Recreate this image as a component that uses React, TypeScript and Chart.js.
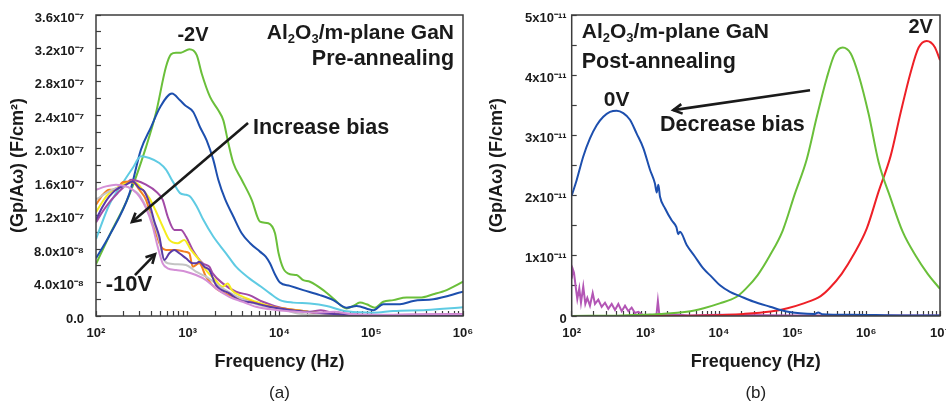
import React, { useEffect, useRef } from 'react';
import { Chart, registerables } from 'chart.js';

Chart.register(...registerables);

const FONT = "'Liberation Sans', Arial, Helvetica, sans-serif";
const INK = '#1a1a1a';
const FRAME = '#3c3c3c';

// ---------- tick labels ----------
const aXTickLabels = ['10²', '10³', '10⁴', '10⁵', '10⁶'];
const aYTickLabels = ['0.0', '4.0x10⁻⁸', '8.0x10⁻⁸', '1.2x10⁻⁷', '1.6x10⁻⁷', '2.0x10⁻⁷', '2.4x10⁻⁷', '2.8x10⁻⁷', '3.2x10⁻⁷', '3.6x10⁻⁷'];
const bXTickLabels = ['10²', '10³', '10⁴', '10⁵', '10⁶', '10⁷'];
const bYTickLabels = ['0', '1x10⁻¹¹', '2x10⁻¹¹', '3x10⁻¹¹', '4x10⁻¹¹', '5x10⁻¹¹'];

// ---------- panel (a): Pre-annealing, values in units of 1e-8 F/cm², x as log10(Hz) ----------
const a_m2V_logHz = [2.0, 2.145, 2.363, 2.545, 2.654, 2.763, 2.818, 2.872, 2.926, 3.017, 3.098, 3.152, 3.243, 3.333, 3.388, 3.442, 3.497, 3.588, 3.697, 3.787, 3.878, 3.951, 3.99, 4.041, 4.114, 4.187, 4.259, 4.332, 4.477, 4.586, 4.732, 4.804, 4.877, 4.95, 5.041, 5.131, 5.24, 5.386, 5.531, 5.676, 5.822, 6.0];
const a_m2V_val = [6.2, 9.6, 14.5, 20.2, 24.3, 29.8, 31.3, 31.5, 31.5, 31.9, 31.2, 29.0, 26.2, 24.6, 23.4, 20.7, 18.3, 16.3, 13.9, 11.3, 11.1, 9.9, 7.5, 5.7, 5.0, 4.9, 4.3, 4.1, 3.1, 2.1, 0.9, 1.2, 1.6, 1.4, 1.0, 1.7, 1.9, 2.2, 2.2, 2.6, 3.1, 4.1];

const a_m3V_logHz = [2.0, 2.145, 2.363, 2.49, 2.6, 2.7, 2.828, 2.916, 2.97, 3.06, 3.133, 3.206, 3.278, 3.333, 3.406, 3.497, 3.588, 3.68, 3.787, 3.85, 3.896, 3.95, 4.005, 4.114, 4.259, 4.441, 4.586, 4.732, 4.841, 5.022, 5.131, 5.313, 5.458, 5.676, 6.0];
const a_m3V_val = [6.9, 9.6, 14.6, 19.9, 22.6, 25.0, 26.6, 25.8, 25.2, 24.4, 22.6, 21.0, 18.7, 16.3, 14.0, 11.9, 9.9, 8.7, 7.7, 7.1, 6.3, 5.0, 4.0, 3.6, 3.1, 2.5, 1.9, 1.0, 1.2, 0.7, 1.4, 1.4, 1.8, 2.0, 2.9];

const a_m4V_logHz = [2.0, 2.145, 2.291, 2.4, 2.49, 2.581, 2.69, 2.763, 2.836, 2.916, 2.981, 3.025, 3.098, 3.17, 3.278, 3.417, 3.526, 3.671, 3.8, 3.896, 4.005, 4.15, 4.332, 4.514, 4.695, 4.877, 5.02, 5.24, 5.6, 6.0];
const a_m4V_val = [9.2, 13.3, 15.9, 17.7, 19.1, 18.9, 18.3, 17.5, 16.1, 14.7, 14.5, 14.3, 13.1, 11.5, 9.5, 7.5, 5.9, 4.5, 3.5, 2.7, 1.9, 1.6, 1.5, 1.2, 0.63, 0.44, 0.4, 0.6, 0.72, 1.04];

const a_m5V_logHz = [2.0, 2.073, 2.145, 2.254, 2.327, 2.381, 2.436, 2.545, 2.654, 2.727, 2.781, 2.854, 2.926, 2.981, 3.054, 3.163, 3.235, 3.272, 3.381, 3.526, 3.671, 3.817, 4.035, 4.2, 4.332, 4.45, 4.6, 4.7, 5.0, 5.5, 6.0];
const a_m5V_val = [11.2, 12.5, 13.6, 14.9, 15.7, 16.3, 16.2, 15.7, 14.9, 13.9, 11.9, 10.3, 10.3, 9.5, 7.9, 6.3, 5.9, 5.1, 3.9, 2.9, 2.5, 1.7, 0.92, 0.7, 0.52, 0.7, 0.3, 0.2, 0.1, 0.15, 0.24];

const a_m6V_logHz = [2.0, 2.073, 2.145, 2.254, 2.363, 2.436, 2.509, 2.581, 2.654, 2.727, 2.799, 2.89, 2.962, 3.035, 3.126, 3.199, 3.3, 3.381, 3.435, 3.48, 3.526, 3.744, 3.962, 4.18, 4.4, 4.6, 5.0, 6.0];
const a_m6V_val = [12.4, 13.7, 14.7, 15.5, 16.0, 15.9, 15.1, 14.1, 12.5, 10.7, 9.1, 8.7, 9.1, 7.9, 6.7, 5.5, 4.3, 3.5, 3.9, 3.1, 2.7, 1.7, 1.0, 0.72, 0.4, 0.2, 0.1, 0.05];

const a_m7V_logHz = [2.0, 2.073, 2.145, 2.218, 2.291, 2.363, 2.418, 2.472, 2.545, 2.6, 2.654, 2.708, 2.763, 2.872, 2.962, 3.017, 3.054, 3.126, 3.199, 3.308, 3.453, 3.6, 3.817, 4.035, 4.3, 4.55, 4.7, 5.0, 6.0];
const a_m7V_val = [13.3, 14.5, 15.1, 15.1, 16.0, 16.1, 15.9, 15.1, 13.9, 11.9, 9.9, 8.3, 7.9, 7.9, 7.7, 7.5, 5.9, 6.3, 4.7, 3.3, 2.5, 2.0, 1.3, 0.92, 0.5, 0.05, 0.0, 0.0, 0.0];

const a_m8V_logHz = [2.0, 2.109, 2.218, 2.327, 2.4, 2.472, 2.545, 2.618, 2.69, 2.727, 2.781, 2.872, 2.981, 3.09, 3.199, 3.381, 3.599, 3.817, 4.035, 4.2, 4.5, 5.0, 6.0];
const a_m8V_val = [13.9, 14.7, 15.3, 15.5, 15.1, 14.5, 13.1, 11.5, 9.1, 7.1, 6.3, 6.2, 6.1, 5.3, 4.7, 3.3, 2.0, 1.2, 0.8, 0.3, 0.1, 0.05, 0.05];

const a_m9V_logHz = [2.0, 2.073, 2.145, 2.218, 2.327, 2.4, 2.472, 2.527, 2.581, 2.636, 2.69, 2.745, 2.799, 2.854, 2.908, 2.981, 3.054, 3.09, 3.126, 3.181, 3.235, 3.308, 3.453, 3.562, 3.708, 3.889, 4.107, 4.3, 4.5, 5.0, 6.0];
const a_m9V_val = [11.5, 13.1, 14.3, 15.1, 15.7, 16.1, 15.3, 14.9, 13.5, 11.3, 9.5, 6.7, 7.5, 7.9, 7.5, 6.9, 6.3, 6.3, 6.5, 5.9, 5.5, 3.7, 2.7, 1.9, 1.6, 1.1, 0.72, 0.5, 0.3, 0.1, 0.1];

const a_m10V_logHz = [2.0, 2.109, 2.218, 2.327, 2.4, 2.472, 2.545, 2.618, 2.672, 2.727, 2.781, 2.872, 2.981, 3.09, 3.199, 3.308, 3.453, 3.599, 3.744, 3.962, 4.18, 4.4, 4.6, 4.8, 5.2, 5.6, 6.0];
const a_m10V_val = [15.1, 15.5, 15.7, 15.5, 15.1, 14.3, 12.9, 10.7, 8.3, 6.3, 5.7, 5.5, 5.3, 4.9, 4.3, 3.3, 2.3, 1.7, 1.1, 0.72, 0.52, 0.4, 0.5, 0.2, 0.15, 0.2, 0.2];

// ---------- panel (b): Post-annealing, values in units of 1e-11 F/cm² ----------
const b_0V_logHz = [2.0, 2.068, 2.157, 2.248, 2.339, 2.429, 2.52, 2.611, 2.7, 2.791, 2.882, 2.972, 3.063, 3.13, 3.154, 3.176, 3.199, 3.266, 3.357, 3.42, 3.447, 3.47, 3.561, 3.674, 3.786, 3.9, 4.013, 4.149, 4.285, 4.465, 4.692, 4.918, 5.1, 5.3, 5.347, 5.4, 5.8, 6.5, 7.0];
const b_0V_val = [2.0, 2.26, 2.65, 2.95, 3.17, 3.31, 3.39, 3.41, 3.37, 3.26, 3.03, 2.79, 2.43, 2.2, 2.05, 2.18, 1.98, 1.79, 1.59, 1.48, 1.36, 1.4, 1.18, 0.985, 0.79, 0.65, 0.51, 0.4, 0.33, 0.24, 0.155, 0.075, 0.045, 0.035, 0.06, 0.03, 0.02, 0.01, 0.01];

const b_1V_logHz = [2.0, 2.69, 3.195, 3.561, 3.792, 4.009, 4.24, 4.362, 4.525, 4.688, 4.865, 5.027, 5.19, 5.326, 5.462, 5.57, 5.679, 5.788, 5.896, 6.032, 6.168, 6.331, 6.493, 6.67, 6.833, 7.0];
const b_1V_val = [0.0, 0.01, 0.033, 0.07, 0.13, 0.21, 0.32, 0.45, 0.68, 1.0, 1.42, 2.02, 2.6, 3.3, 3.95, 4.35, 4.46, 4.36, 4.0, 3.35, 2.55, 1.95, 1.4, 1.0, 0.7, 0.45];

const b_2V_logHz = [2.0, 3.0, 3.83, 4.335, 4.7, 4.93, 5.15, 5.38, 5.5, 5.665, 5.828, 6.005, 6.167, 6.33, 6.466, 6.602, 6.71, 6.819, 6.928, 7.0];
const b_2V_val = [0.0, 0.0, 0.01, 0.035, 0.075, 0.13, 0.21, 0.33, 0.46, 0.7, 1.02, 1.45, 2.07, 2.66, 3.38, 4.05, 4.46, 4.57, 4.47, 4.25];

const b_neg_logHz = [2.0, 2.015, 2.031, 2.058, 2.076, 2.103, 2.126, 2.157, 2.185, 2.212, 2.248, 2.285, 2.316, 2.361, 2.407, 2.452, 2.497, 2.543, 2.588, 2.633, 2.679, 2.724, 2.769, 2.814, 2.859, 2.904, 2.972, 3.063, 3.15, 3.17, 3.19, 3.334, 3.6, 4.0, 5.0, 6.0, 7.0];
const b_neg_val = [0.62, 0.78, 0.72, 0.45, 0.28, 0.46, 0.22, 0.49, 0.2, 0.3, 0.17, 0.38, 0.2, 0.27, 0.15, 0.22, 0.12, 0.2, 0.1, 0.2, 0.08, 0.17, 0.08, 0.14, 0.05, 0.07, 0.01, 0.02, 0.01, 0.25, 0.02, 0.03, 0.01, 0.02, 0.01, 0.01, 0.01];

// ---------- helpers ----------
function pts(logHz: number[], vals: number[]) {
  return logHz.map((l, i) => ({ x: Math.pow(10, l), y: vals[i] }));
}

function series(label: string, logHz: number[], vals: number[], color: string, noisy = false) {
  return {
    label,
    data: pts(logHz, vals),
    borderColor: color,
    backgroundColor: color,
    borderWidth: 2,
    pointRadius: 0,
    fill: false,
    tension: 0,
    cubicInterpolationMode: noisy ? 'default' : 'monotone',
  };
}

type Part = { t: string; sub?: boolean };
type Txt = { parts: Part[]; f: number; v: number; align: 'left' | 'right' | 'center'; size: number };
type Arrow = { f1: number; v1: number; f2: number; v2: number };

function drawRich(ctx: CanvasRenderingContext2D, parts: Part[], x: number, y: number, size: number, align: string) {
  const mainFont = `bold ${size}px ${FONT}`;
  const subFont = `bold ${Math.round(size * 0.62)}px ${FONT}`;
  let w = 0;
  for (const p of parts) {
    ctx.font = p.sub ? subFont : mainFont;
    w += ctx.measureText(p.t).width;
  }
  let cx = align === 'left' ? x : align === 'right' ? x - w : x - w / 2;
  ctx.textAlign = 'left';
  ctx.textBaseline = 'middle';
  ctx.fillStyle = INK;
  for (const p of parts) {
    ctx.font = p.sub ? subFont : mainFont;
    ctx.fillText(p.t, cx, p.sub ? y + size * 0.33 : y);
    cx += ctx.measureText(p.t).width;
  }
}

function drawArrow(ctx: CanvasRenderingContext2D, x1: number, y1: number, x2: number, y2: number) {
  ctx.strokeStyle = INK;
  ctx.lineWidth = 2.6;
  ctx.lineCap = 'butt';
  ctx.beginPath();
  ctx.moveTo(x1, y1);
  ctx.lineTo(x2, y2);
  ctx.stroke();
  const ang = Math.atan2(y2 - y1, x2 - x1);
  const hl = 10;
  const sp = 0.5;
  ctx.lineJoin = 'miter';
  ctx.beginPath();
  ctx.moveTo(x2 - hl * Math.cos(ang - sp), y2 - hl * Math.sin(ang - sp));
  ctx.lineTo(x2, y2);
  ctx.lineTo(x2 - hl * Math.cos(ang + sp), y2 - hl * Math.sin(ang + sp));
  ctx.stroke();
}

const annotPlugin = {
  id: 'annot',
  afterDatasetsDraw(chart: any, _args: any, opts: any) {
    const ctx: CanvasRenderingContext2D = chart.ctx;
    const xs = chart.scales.x;
    const ys = chart.scales.y;
    const a = chart.chartArea;
    ctx.save();
    ctx.strokeStyle = FRAME;
    ctx.lineWidth = 1.5;
    ctx.strokeRect(a.left, a.top, a.right - a.left, a.bottom - a.top);
    for (const t of (opts.texts || []) as Txt[]) {
      drawRich(ctx, t.parts, xs.getPixelForValue(t.f), ys.getPixelForValue(t.v), t.size, t.align);
    }
    for (const ar of (opts.arrows || []) as Arrow[]) {
      drawArrow(ctx, xs.getPixelForValue(ar.f1), ys.getPixelForValue(ar.v1), xs.getPixelForValue(ar.f2), ys.getPixelForValue(ar.v2));
    }
    ctx.restore();
  },
};

const header: Part[] = [{ t: 'Al' }, { t: '2', sub: true }, { t: 'O' }, { t: '3', sub: true }, { t: '/m-plane GaN' }];

const aTexts: Txt[] = [
  { parts: [{ t: '-2V' }], f: 1140, v: 33.6, align: 'center', size: 20 },
  { parts: header, f: 7.98e5, v: 33.85, align: 'right', size: 21 },
  { parts: [{ t: 'Pre-annealing' }], f: 7.98e5, v: 30.74, align: 'right', size: 21.5 },
  { parts: [{ t: 'Increase bias' }], f: 5140, v: 22.5, align: 'left', size: 21.5 },
  { parts: [{ t: '-10V' }], f: 229, v: 3.7, align: 'center', size: 22 },
];
const aArrows: Arrow[] = [
  { f1: 4540, v1: 23.08, f2: 246.6, v2: 11.24 },
  { f1: 266, v1: 4.9, f2: 440, v2: 7.38 },
];
const bTexts: Txt[] = [
  { parts: header, f: 136.8, v: 4.72, align: 'left', size: 21 },
  { parts: [{ t: 'Post-annealing' }], f: 136.8, v: 4.22, align: 'left', size: 21.5 },
  { parts: [{ t: '0V' }], f: 408, v: 3.59, align: 'center', size: 21 },
  { parts: [{ t: 'Decrease bias' }], f: 1581, v: 3.17, align: 'left', size: 21.5 },
  { parts: [{ t: '2V' }], f: 5.46e6, v: 4.8, align: 'center', size: 20 },
];
const bArrows: Arrow[] = [{ f1: 1.72e5, v1: 3.75, f2: 2393, v2: 3.42 }];

function logTicks(minExp: number, maxExp: number) {
  const t: { value: number }[] = [];
  for (let e = minExp; e < maxExp; e++) {
    for (let m = 1; m < 10; m++) t.push({ value: m * Math.pow(10, e) });
  }
  t.push({ value: Math.pow(10, maxExp) });
  return t;
}

type PanelOpts = {
  datasets: any[];
  xMaxExp: number;
  xLabels: string[];
  yMax: number;
  yStep: number;
  yLabels: string[];
  yWidth: number;
  rightPad: number;
  yTitlePad: number;
  yTickPad: number;
  tag: string;
  texts: Txt[];
  arrows: Arrow[];
};

function makeConfig(p: PanelOpts): any {
  return {
    type: 'line',
    data: { datasets: p.datasets },
    plugins: [annotPlugin],
    options: {
      animation: false,
      responsive: false,
      devicePixelRatio: 1,
      events: [],
      layout: { padding: { top: 15, right: p.rightPad, left: 0, bottom: 0 } },
      plugins: {
        legend: { display: false },
        tooltip: { enabled: false },
        title: {
          display: true,
          text: p.tag,
          position: 'bottom',
          fullSize: false,
          color: '#222',
          font: { family: FONT, size: 17, weight: 'normal' },
          padding: { top: 0, bottom: 2 },
        },
        annot: { texts: p.texts, arrows: p.arrows },
      },
      scales: {
        x: {
          type: 'logarithmic',
          min: 100,
          max: Math.pow(10, p.xMaxExp),
          afterBuildTicks: (s: any) => {
            s.ticks = logTicks(2, p.xMaxExp);
          },
          afterFit: (s: any) => {
            s.height = 67.6;
            s.paddingLeft = 0;
            s.paddingRight = 0;
          },
          border: { display: false },
          grid: { drawOnChartArea: false, tickLength: -5, tickColor: FRAME, tickWidth: 1.2 },
          ticks: {
            autoSkip: false,
            maxRotation: 0,
            minRotation: 0,
            padding: 15,
            color: INK,
            font: { family: FONT, size: 13, weight: 'bold' },
            callback: (value: number) => {
              const e = Math.log10(value);
              const r = Math.round(e);
              return Math.abs(e - r) < 1e-6 ? p.xLabels[r - 2] : '';
            },
          },
          title: {
            display: true,
            text: 'Frequency (Hz)',
            color: INK,
            font: { family: FONT, size: 18, weight: 'bold' },
            padding: { top: 0, bottom: 11 },
          },
        },
        y: {
          type: 'linear',
          min: 0,
          max: p.yMax,
          afterFit: (s: any) => {
            s.width = p.yWidth;
            s.paddingTop = 0;
            s.paddingBottom = 0;
          },
          border: { display: false },
          grid: { drawOnChartArea: false, tickLength: -5, tickColor: FRAME, tickWidth: 1.2 },
          ticks: {
            stepSize: p.yStep,
            autoSkip: false,
            padding: p.yTickPad,
            labelOffset: 3,
            color: INK,
            font: { family: FONT, size: 13, weight: 'bold' },
            callback: (value: number) => {
              const k = Math.round(value / p.yStep);
              return k % 2 === 0 ? p.yLabels[k / 2] ?? '' : '';
            },
          },
          title: {
            display: true,
            text: '(Gp/Aω) (F/cm²)',
            color: INK,
            font: { family: FONT, size: 18, weight: 'bold' },
            padding: { top: p.yTitlePad, bottom: 0 },
          },
        },
      },
    },
  };
}

const panelA: PanelOpts = {
  datasets: [
    series('-10V', a_m10V_logHz, a_m10V_val, '#d48fd6'),
    series('-9V', a_m9V_logHz, a_m9V_val, '#5b3aa6'),
    series('-8V', a_m8V_logHz, a_m8V_val, '#c4c4c4'),
    series('-7V', a_m7V_logHz, a_m7V_val, '#f4801f'),
    series('-6V', a_m6V_logHz, a_m6V_val, '#f5ec1e'),
    series('-5V', a_m5V_logHz, a_m5V_val, '#a24aa6'),
    series('-4V', a_m4V_logHz, a_m4V_val, '#5fcbe3'),
    series('-3V', a_m3V_logHz, a_m3V_val, '#1d4fae'),
    series('-2V', a_m2V_logHz, a_m2V_val, '#6abf3a'),
  ],
  xMaxExp: 6,
  xLabels: aXTickLabels,
  yMax: 36,
  yStep: 2,
  yLabels: aYTickLabels,
  yWidth: 96,
  rightPad: 10,
  yTitlePad: 7,
  yTickPad: 17,
  tag: '(a)',
  texts: aTexts,
  arrows: aArrows,
};

const panelB: PanelOpts = {
  datasets: [
    series('0V', b_0V_logHz, b_0V_val, '#1d4fae'),
    series('1V', b_1V_logHz, b_1V_val, '#6abf3a'),
    series('2V', b_2V_logHz, b_2V_val, '#ee2027'),
    series('-1V', b_neg_logHz, b_neg_val, '#b356b5', true),
  ],
  xMaxExp: 7,
  xLabels: bXTickLabels,
  yMax: 5,
  yStep: 0.5,
  yLabels: bYTickLabels,
  yWidth: 98.7,
  rightPad: 6,
  yTitlePad: 13,
  yTickPad: 10,
  tag: '(b)',
  texts: bTexts,
  arrows: bArrows,
};

function Panel({ opts, left }: { opts: PanelOpts; left: number }) {
  const ref = useRef<HTMLCanvasElement | null>(null);
  useEffect(() => {
    if (!ref.current) return;
    const chart = new Chart(ref.current, makeConfig(opts));
    return () => chart.destroy();
  }, [opts]);
  return (
    <div style={{ position: 'absolute', left, top: 0, width: 473, height: 406 }}>
      <canvas ref={ref} width={473} height={406} style={{ display: 'block', width: 473, height: 406 }} />
    </div>
  );
}

export default function App() {
  return (
    <div style={{ position: 'absolute', left: 0, top: 0, width: 946, height: 406, background: '#ffffff', overflow: 'hidden' }}>
      <Panel opts={panelA} left={0} />
      <Panel opts={panelB} left={473} />
    </div>
  );
}
